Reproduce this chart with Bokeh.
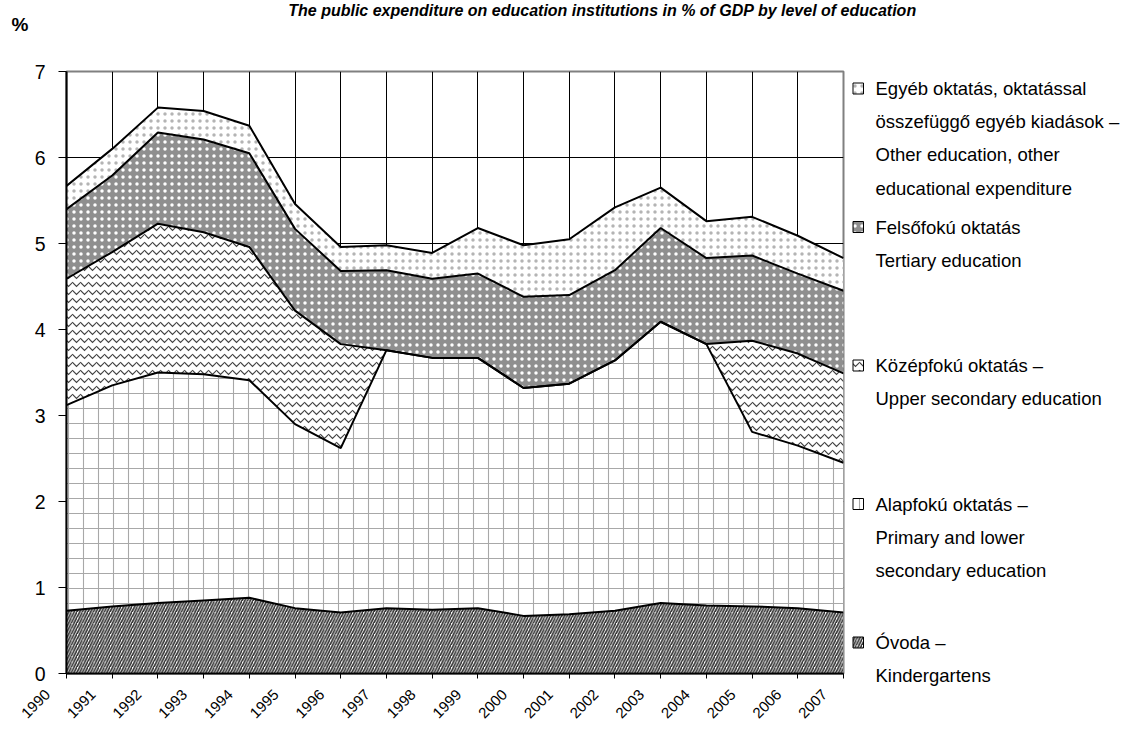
import numpy as np
from bokeh.plotting import figure
from bokeh.layouts import column, row
from bokeh.models import Range1d, FixedTicker
from bokeh.embed import file_html
from bokeh.resources import INLINE
from bokeh.core.properties import value

# ---------------- data ----------------
years = list(range(1990, 2008))
year_labels = [str(y) for y in years]
kindergarten = [0.73, 0.78, 0.82, 0.85, 0.88, 0.76, 0.71, 0.76, 0.74, 0.76, 0.67, 0.69, 0.73, 0.82, 0.79, 0.78, 0.76, 0.71]
primary = [2.39, 2.57, 2.68, 2.63, 2.53, 2.14, 1.91, 3.00, 2.93, 2.91, 2.65, 2.68, 2.91, 3.27, 3.04, 2.03, 1.89, 1.74]
upper_secondary = [1.47, 1.55, 1.73, 1.65, 1.55, 1.32, 1.21, 0, 0, 0, 0, 0, 0, 0, 0, 1.06, 1.07, 1.04]
tertiary = [0.81, 0.89, 1.06, 1.08, 1.09, 0.95, 0.85, 0.93, 0.92, 0.98, 1.06, 1.03, 1.05, 1.09, 1.00, 0.99, 0.93, 0.96]
other = [0.27, 0.31, 0.29, 0.33, 0.32, 0.29, 0.28, 0.29, 0.30, 0.53, 0.60, 0.65, 0.73, 0.47, 0.43, 0.45, 0.44, 0.38]

y_ticks = [0, 1, 2, 3, 4, 5, 6, 7]

labels_other = ["Egyéb oktatás, oktatással", "összefüggő egyéb kiadások –",
                "Other education, other", "educational expenditure"]
labels_tertiary = ["Felsőfokú oktatás", "Tertiary education"]
labels_secondary = ["Középfokú oktatás  –", "Upper secondary education"]
labels_primary = ["Alapfokú oktatás  –", "Primary and lower", "secondary education"]
labels_kinder = ["Óvoda  –", "Kindergartens"]

title_text = "The public expenditure on education institutions in % of GDP by level of education"
unit_text = "%"

FONT = "Liberation Sans"

# ---------------- styles ----------------
styles = {
    "kinder": dict(fill_color="white", hatch_pattern="right_diagonal_line", hatch_color="#333333",
                   hatch_scale=5.5, hatch_weight=1.7),
    "primary": dict(fill_color="white", hatch_pattern="cross", hatch_color="#a8a8a8",
                    hatch_scale=15, hatch_weight=1.1),
    "secondary": dict(fill_color="white", hatch_pattern="horizontal_wave", hatch_color="#444444",
                      hatch_scale=8, hatch_weight=1.2),
    "tertiary": dict(fill_color="#8f8f8f", hatch_pattern="dot", hatch_color="white",
                     hatch_scale=7, hatch_weight=1.0),
    "other": dict(fill_color="white", hatch_pattern="dot", hatch_color="#b4b4b4",
                  hatch_scale=7, hatch_weight=1.0),
}

# ---------------- geometry (picture px, canvas origin at 0,0) ----------------
TOTAL_W, TOTAL_H = 1123, 722
TITLE_H = 40
STRIP_H = 37                             # strip with the rotated year labels
MAIN_W = 851
FL, FR, FT, FB = 66, 843, 71, 673        # frame edges
ROW_Y0 = TITLE_H
MAIN_H = TOTAL_H - TITLE_H - STRIP_H
STRIP_Y0 = ROW_Y0 + MAIN_H


def bare(fig):
    fig.axis.visible = False
    fig.grid.visible = False
    fig.outline_line_color = None
    fig.background_fill_color = "white"
    fig.border_fill_color = "white"
    return fig


# ---------------- title strip ----------------
pt = bare(figure(width=TOTAL_W, height=TITLE_H, output_backend="svg", toolbar_location=None,
                 x_range=Range1d(0, TOTAL_W), y_range=Range1d(TITLE_H, 0), min_border=0))
pt.text(x=[602], y=[1], text=[title_text], text_align="center", text_baseline="top",
        text_font=value(FONT), text_font_style="bold italic", text_font_size="16px", text_color="black")
pt.text(x=[11], y=[13], text=[unit_text], text_align="left", text_baseline="top",
        text_font=value(FONT), text_font_style="bold", text_font_size="19px", text_color="black")

# ---------------- main chart ----------------
p = figure(width=MAIN_W, height=MAIN_H, output_backend="svg", toolbar_location=None,
           x_range=Range1d(years[0], years[-1]), y_range=Range1d(y_ticks[0], y_ticks[-1]),
           min_border_left=FL, min_border_right=MAIN_W - FR,
           min_border_top=FT - ROW_Y0, min_border_bottom=ROW_Y0 + MAIN_H - FB)
p.background_fill_color = "white"
p.border_fill_color = "white"
p.outline_line_color = "#808080"
p.outline_line_width = 2

p.xgrid.ticker = FixedTicker(ticks=years)
p.ygrid.ticker = FixedTicker(ticks=y_ticks[1:-1])
for g in (p.xgrid, p.ygrid):
    g.grid_line_color = "black"
    g.grid_line_width = 1

p.yaxis.ticker = FixedTicker(ticks=y_ticks)
p.xaxis.ticker = FixedTicker(ticks=years)
for ax in (p.xaxis, p.yaxis):
    ax.axis_line_color = "black"
    ax.axis_line_width = 2
    ax.major_tick_line_color = "black"
    ax.major_tick_in = 0
    ax.minor_tick_line_color = None
    ax.major_label_text_color = "black"
    ax.major_label_text_font = FONT
p.yaxis.major_tick_out = 8
p.xaxis.major_tick_out = 5
p.yaxis.major_label_text_font_size = "19.5px"
p.yaxis.major_label_standoff = 13
# the year labels are drawn in the strip below (rotated and shifted like the original)
p.xaxis.major_label_overrides = {y: "" for y in years}
p.xaxis.major_label_text_font_size = "0px"
p.xaxis.major_label_standoff = 0

series = [("kinder", kindergarten), ("primary", primary), ("secondary", upper_secondary),
          ("tertiary", tertiary), ("other", other)]
base = np.zeros(len(years))
tops = []
for key, vals in series:
    top = base + np.array(vals)
    p.varea(x=years, y1=base, y2=top, **styles[key])
    tops.append(top)
    base = top
for top in tops:
    p.line(years, top, line_color="black", line_width=2)

# ---------------- year-label strip (same x scale as the chart) ----------------
yr_per_px = (years[-1] - years[0]) / (FR - FL)
pb = bare(figure(width=MAIN_W, height=STRIP_H, output_backend="svg", toolbar_location=None,
                 x_range=Range1d(years[0] - FL * yr_per_px, years[0] + (MAIN_W - FL) * yr_per_px),
                 y_range=Range1d(TOTAL_H, STRIP_Y0), min_border=0))
pb.text(x=years, y=[691.5] * len(years), text=year_labels, angle=np.pi / 4,
        x_offset=-19, text_align="right", text_baseline="middle",
        text_font=value(FONT), text_font_size="15px", text_color="black")

# ---------------- legend panel ----------------
LEG_X0 = MAIN_W
LEG_W = TOTAL_W - MAIN_W
LEG_H = TOTAL_H - TITLE_H
pl = bare(figure(width=LEG_W, height=LEG_H, output_backend="svg", toolbar_location=None,
                 x_range=Range1d(LEG_X0, LEG_X0 + LEG_W), y_range=Range1d(ROW_Y0 + LEG_H, ROW_Y0),
                 min_border=0))
entries = [("other", labels_other), ("tertiary", labels_tertiary), ("secondary", labels_secondary),
           ("primary", labels_primary), ("kinder", labels_kinder)]
for i, (key, lines) in enumerate(entries):
    y0 = 88 + 138.5 * i
    pl.quad(left=[852.5], right=[863], top=[y0 - 5.5], bottom=[y0 + 5.5],
            line_color="black", line_width=1, **styles[key])
    pl.text(x=[875] * len(lines), y=[y0 + 33.2 * j for j in range(len(lines))], text=lines,
            text_align="left", text_baseline="middle", text_font=value(FONT),
            text_font_size="18.5px", text_color="black")

layout = column(pt, row(column(p, column(pb)), column(pl)))
open("out.html", "w").write(file_html(layout, INLINE))
